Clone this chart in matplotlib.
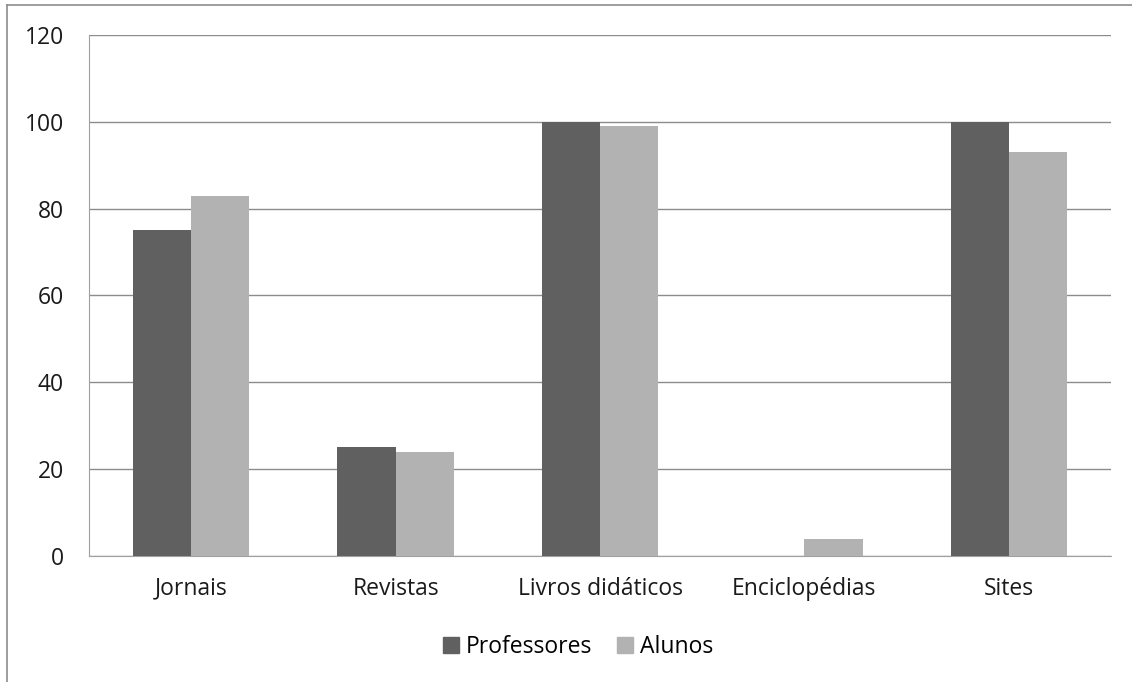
import numpy as np
import matplotlib.pyplot as plt
from matplotlib.lines import Line2D
from matplotlib.patches import Patch

categorias = ['Jornais', 'Revistas', 'Livros didáticos', 'Enciclopédias', 'Sites']
professores = [75, 25, 100, 0, 100]
alunos = [83, 24, 99, 4, 93]
y_ticks = [0, 20, 40, 60, 80, 100, 120]

plt.rcParams['font.family'] = ['Open Sans', 'DejaVu Sans']

fig = plt.figure(figsize=(11.32, 6.82), dpi=100)
ax = fig.add_axes([0.0786, 0.1848, 0.9029, 0.7639])

x = np.arange(len(categorias))
w = 0.285
ax.bar(x - w/2, professores, w, color='#606060', label='Professores', zorder=3)
ax.bar(x + w/2, alunos, w, color='#b2b2b2', label='Alunos', zorder=3)

ax.set_xlim(-0.5, len(categorias) - 0.5)
ax.set_ylim(0, 120)
ax.set_yticks(y_ticks)
ax.set_xticks(x)
ax.set_xticklabels(categorias, fontsize=16.5, color='#1a1a1a')
ax.tick_params(axis='y', labelsize=16.5, colors='#1a1a1a', length=0, pad=18)
ax.tick_params(axis='x', length=0, pad=15)
ax.yaxis.grid(True, color='#8c8c8c', linewidth=1)
ax.set_axisbelow(True)
for s in ['top', 'right']:
    ax.spines[s].set_visible(False)
ax.spines['left'].set_color('#a0a0a0')
ax.spines['bottom'].set_color('#a0a0a0')

handles = [Patch(color='#606060'), Patch(color='#b2b2b2')]
fig.legend(handles, ['Professores', 'Alunos'], loc='center', bbox_to_anchor=(0.5106, 0.0513),
           ncol=2, frameon=False, fontsize=16.5, handlelength=0.7, handleheight=0.7,
           handletextpad=0.3, columnspacing=1.1, borderpad=0)

# outer chart border (top and left edges visible)
fig.add_artist(Line2D([0.0062, 1.0], [0.9927, 0.9927], color='#8c8c8c', linewidth=1.2, transform=fig.transFigure))
fig.add_artist(Line2D([0.0062, 0.0062], [0.0, 0.9927], color='#8c8c8c', linewidth=1.2, transform=fig.transFigure))

fig.savefig('out.png', dpi=100)
